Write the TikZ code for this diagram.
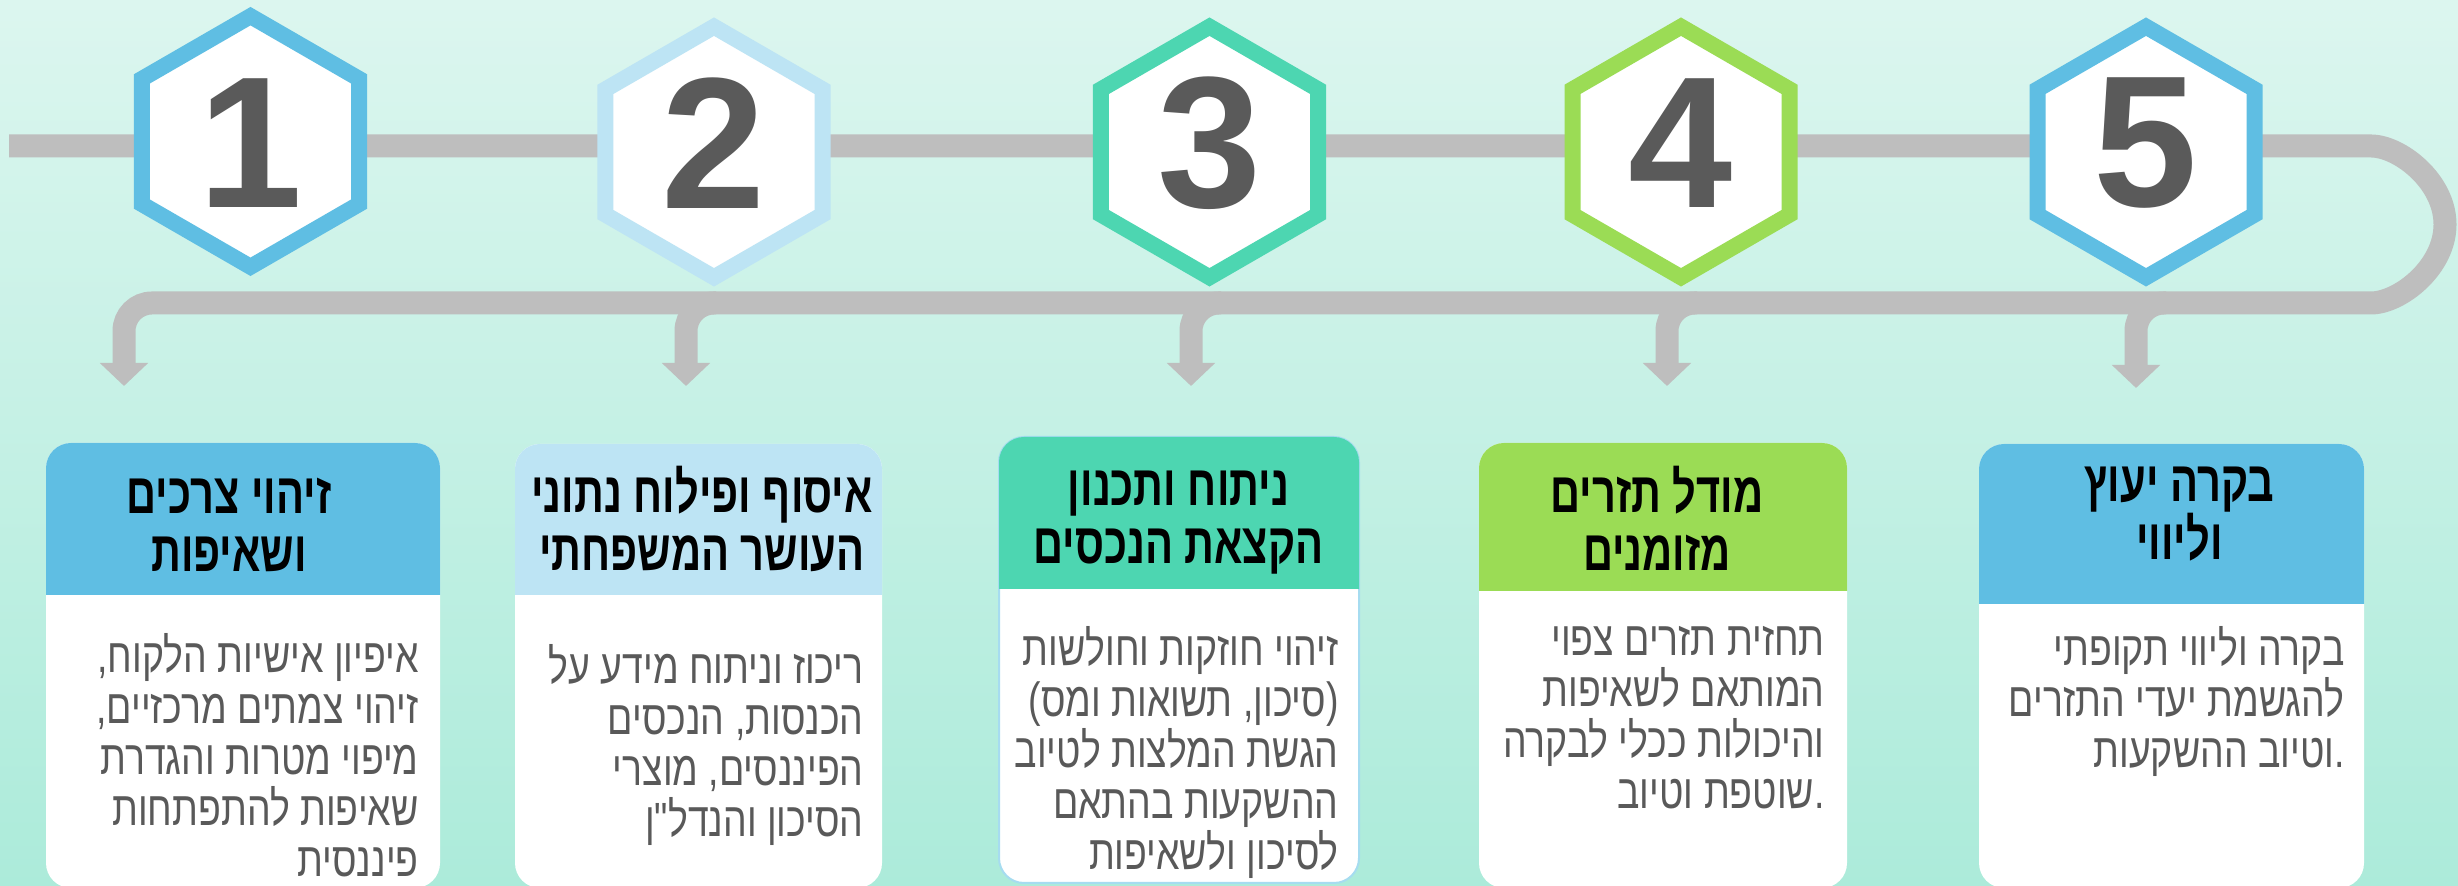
\documentclass[tikz,border=0pt]{standalone}
\usepackage{fontspec}
\usetikzlibrary{shapes.geometric}
\usetikzlibrary{arrows.meta}
\setmainfont{Liberation Sans}
\newfontfamily\heb[Script=Hebrew,FakeStretch=0.78,Ligatures=TeXOff]{Liberation Sans}
\newfontfamily\hebbold[Script=Hebrew,FakeStretch=0.73]{Liberation Sans Bold}
\TeXXeTstate=1
\definecolor{bgtop}{HTML}{DCF6EF}
\definecolor{bgbot}{HTML}{ACEBDA}
\definecolor{cgray}{HTML}{BEBEBE}
\definecolor{cblue}{HTML}{5FBEE3}
\definecolor{cpale}{HTML}{BDE4F4}
\definecolor{cteal}{HTML}{4DD6B1}
\definecolor{cgreen}{HTML}{9BDC55}
\definecolor{cedge}{HTML}{A6DCF0}
\definecolor{cdigit}{HTML}{5A5A5A}
\definecolor{ctext}{HTML}{595959}

\begin{document}
\begin{tikzpicture}[x=0.5pt,y=0.5pt,
	pipe/.style={draw=cgray,line width=11.5pt,rounded corners=14pt},
	tip/.style={-{Triangle[width=23.5pt,length=11.5pt]}},
	hexa/.style={regular polygon,regular polygon sides=6,shape border rotate=30,draw=#1,fill=white,line width=8pt,minimum size=125.3pt,inner sep=0pt},
	num/.style={font=\fontsize{93.6}{100}\selectfont\bfseries,text=cdigit,inner sep=0pt},
	card/.style={fill=white,rounded corners=12.5pt,inner sep=0pt,outer sep=0pt},
	title/.style={font=\hebbold\fontsize{28.5}{29}\selectfont,align=center,inner sep=0pt,
		execute at begin node=\strut,execute at end node=\strut},
	body/.style={font=\heb\fontsize{24}{25.5}\selectfont,text=ctext,align=right,inner sep=0pt,anchor=north east,
		execute at begin node=\strut,execute at end node=\strut}
	]
	\useasboundingbox (0,0) rectangle (2458,886);
	\clip (0,0) rectangle (2458,886);
	\shade[top color=bgtop,bottom color=bgbot] (0,0) rectangle (2458,886);

	\coordinate (start) at (9,740);
	\coordinate (loop) at (2343,740);
	\coordinate (t1) at (124,500);
	\coordinate (t2) at (686,500);
	\coordinate (t3) at (1191,500);
	\coordinate (t4) at (1667,500);
	\coordinate (t5) at (2136,498);
	\coordinate (f2) at (716,583);
	\coordinate (f3) at (1221,583);
	\coordinate (f4) at (1697,583);
	\coordinate (f5) at (2166,583);

	\draw[pipe,tip] (start) -- (loop) arc[start angle=90,end angle=-90,x radius=102,y radius=78.5] -| (t1);
	\draw[pipe,tip] (f2) -| (t2);
	\draw[pipe,tip] (f3) -| (t3);
	\draw[pipe,tip] (f4) -| (t4);
	\draw[pipe,tip] (f5) -| (t5);

	\node[hexa=cblue] (h1) at (250.5,744.5) {};
	\node[hexa=cpale] (h2) at (714,734) {};
	\node[hexa=cteal] (h3) at (1209.5,734) {};
	\node[hexa=cgreen] (h4) at (1681,734) {};
	\node[hexa=cblue] (h5) at (2146,734) {};
	\node[num] (n1) at (250.5,742.5) {1};
	\node[num] (n2) at (714,742.5) {2};
	\node[num] (n3) at (1209.5,742.5) {3};
	\node[num] (n4) at (1681,742.5) {4};
	\node[num] (n5) at (2146,742.5) {5};

	\node[card,minimum width=197pt,minimum height=222.5pt] (b1) at (243,220.5) {};
	\node[card,minimum width=183.5pt,minimum height=222pt] (b2) at (698.5,220) {};
	\node[card,draw=cedge,line width=1pt,minimum width=180pt,minimum height=223pt] (b3) at (1179,226) {};
	\node[card,minimum width=184pt,minimum height=222.5pt] (b4) at (1663,220.5) {};
	\node[card,minimum width=192.5pt,minimum height=222pt] (b5) at (2171.5,220) {};

	\coordinate (hb1) at (0,291);
	\coordinate (hb2) at (0,291);
	\coordinate (hb3) at (0,297);
	\coordinate (hb4) at (0,295);
	\coordinate (hb5) at (0,282);
	\begin{scope}
		\clip (b1.north west) rectangle (b1.east |- hb1);
		\fill[cblue,rounded corners=12.5pt] (b1.north west) rectangle (b1.south east);
	\end{scope}
	\begin{scope}
		\clip (b2.north west) rectangle (b2.east |- hb2);
		\fill[cpale,rounded corners=12.5pt] (b2.north west) rectangle (b2.south east);
	\end{scope}
	\begin{scope}
		\clip (b3.north west) rectangle (b3.east |- hb3);
		\fill[cteal,rounded corners=12.5pt] (b3.north west) rectangle (b3.south east);
	\end{scope}
	\begin{scope}
		\clip (b4.north west) rectangle (b4.east |- hb4);
		\fill[cgreen,rounded corners=12.5pt] (b4.north west) rectangle (b4.south east);
	\end{scope}
	\begin{scope}
		\clip (b5.north west) rectangle (b5.east |- hb5);
		\fill[cblue,rounded corners=12.5pt] (b5.north west) rectangle (b5.south east);
	\end{scope}

	\node[title] (ti1) at (229,353) {\beginR זיהוי צרכים\endR\\\beginR ושאיפות\endR};
	\node[title] (ti2) at (702,358.5) {\beginR איסוף ופילוח נתוני\endR\\\beginR העושר המשפחתי\endR};
	\node[title] (ti3) at (1178.5,360.5) {\beginR ניתוח ותכנון\endR\\\beginR הקצאת הנכסים\endR};
	\node[title] (ti4) at (1657,359) {\beginR מודל תזרים\endR\\\beginR מזומנים\endR};
	\node[title] (ti5) at (2179.5,364.5) {\beginR בקרה יעוץ\endR\\\beginR וליווי\endR};

	\node[body] (d1) at (419,253) {\beginR איפיון אישיות הלקוח,\endR\\\beginR זיהוי צמתים מרכזיים,\endR\\\beginR מיפוי מטרות והגדרת\endR\\\beginR שאיפות להתפתחות\endR\\\beginR פיננסית\endR};
	\node[body] (d2) at (864,242) {\beginR ריכוז וניתוח מידע על\endR\\\beginR הכנסות, הנכסים\endR\\\beginR הפיננסים, מוצרי\endR\\\beginR הסיכון והנדל"ן\endR};
	\node[body] (d3) at (1339,260) {\beginR זיהוי חוזקות וחולשות\endR\\\beginR (סיכון, תשואות ומס)\endR\\\beginR הגשת המלצות לטיוב\endR\\\beginR ההשקעות בהתאם\endR\\\beginR לסיכון ולשאיפות\endR};
	\node[body] (d4) at (1825,260) {\beginR תחזית תזרים צפוי\endR\\\beginR המותאם לשאיפות\endR\\\beginR והיכולות ככלי לבקרה\endR\\\beginR\mbox{.}שוטפת וטיוב\endR};
	\node[body] (d5) at (2345,260) {\beginR בקרה וליווי תקופתי\endR\\\beginR להגשמת יעדי התזרים\endR\\\beginR\mbox{.}וטיוב ההשקעות\endR};
\end{tikzpicture}
\end{document}
